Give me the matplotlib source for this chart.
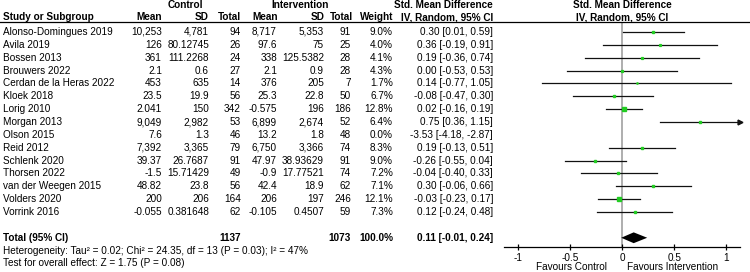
import matplotlib
matplotlib.use('Agg')
import matplotlib.pyplot as plt
import matplotlib.transforms as mtransforms

plt.rcParams['font.family'] = ['Liberation Sans', 'DejaVu Sans']
FS = 7.2

studies = ['Alonso-Domingues 2019', 'Avila 2019', 'Bossen 2013', 'Brouwers 2022',
           'Cerdan de la Heras 2022', 'Kloek 2018', 'Lorig 2010', 'Morgan 2013',
           'Olson 2015', 'Reid 2012', 'Schlenk 2020', 'Thorsen 2022',
           'van der Weegen 2015', 'Volders 2020', 'Vorrink 2016']
ctrl_mean = ['10,253', '126', '361', '2.1', '453', '23.5', '2.041', '9,049',
             '7.6', '7,392', '39.37', '-1.5', '48.82', '200', '-0.055']
ctrl_sd = ['4,781', '80.12745', '111.2268', '0.6', '635', '19.9', '150', '2,982',
           '1.3', '3,365', '26.7687', '15.71429', '23.8', '206', '0.381648']
ctrl_n = [94, 26, 24, 27, 14, 56, 342, 53, 46, 79, 91, 49, 56, 164, 62]
int_mean = ['8,717', '97.6', '338', '2.1', '376', '25.3', '-0.575', '6,899',
            '13.2', '6,750', '47.97', '-0.9', '42.4', '206', '-0.105']
int_sd = ['5,353', '75', '125.5382', '0.9', '205', '22.8', '196', '2,674',
          '1.8', '3,366', '38.93629', '17.77521', '18.9', '197', '0.4507']
int_n = [91, 25, 28, 28, 7, 50, 186, 52, 48, 74, 91, 74, 62, 246, 59]
weight = [9.0, 4.0, 4.1, 4.3, 1.7, 6.7, 12.8, 6.4, 0.0, 8.3, 9.0, 7.2, 7.1, 12.1, 7.3]
smd = [0.30, 0.36, 0.19, 0.00, 0.14, -0.08, 0.02, 0.75, -3.53, 0.19, -0.26, -0.04, 0.30, -0.03, 0.12]
ci_lo = [0.01, -0.19, -0.36, -0.53, -0.77, -0.47, -0.16, 0.36, -4.18, -0.13, -0.55, -0.40, -0.06, -0.23, -0.24]
ci_hi = [0.59, 0.91, 0.74, 0.53, 1.05, 0.30, 0.19, 1.15, -2.87, 0.51, 0.04, 0.33, 0.66, 0.17, 0.48]

total_ctrl = 1137
total_int = 1073
total_smd, total_lo, total_hi = 0.11, -0.01, 0.24
heterogeneity = 'Heterogeneity: Tau² = 0.02; Chi² = 24.35, df = 13 (P = 0.03); I² = 47%'
overall = 'Test for overall effect: Z = 1.75 (P = 0.08)'
xticks = [-1, -0.5, 0, 0.5, 1]
xticklabels = ['-1', '-0.5', '0', '0.5', '1']

W, H = 750, 272
fig = plt.figure(figsize=(W / 100, H / 100), dpi=100)

# forest axes, rows map to pixel y = 32 + 12.86 * row
row_px0, row_step = 32, 12.86
top_px, bot_px = 22, 247
ax = fig.add_axes([504 / W, 1 - bot_px / H, (740 - 504) / W, (bot_px - top_px) / H])
ax.set_xlim(-1.138, 1.133)
ax.set_ylim((bot_px - row_px0) / row_step, (top_px - row_px0) / row_step)
for s in ['left', 'right', 'top']:
    ax.spines[s].set_visible(False)
ax.spines['bottom'].set_linewidth(0.9)
ax.set_yticks([])
ax.set_xticks(xticks)
ax.set_xticklabels(xticklabels, fontsize=FS)
ax.tick_params(axis='x', direction='inout', length=5, width=0.9, pad=1.5)
ax.axvline(0, color='#999999', lw=1.1, zorder=1)

xmin, xmax = ax.get_xlim()
for i in range(len(studies)):
    lo, hi, m = ci_lo[i], ci_hi[i], smd[i]
    if hi < xmin or lo > xmax:
        continue
    ax.plot([max(lo, xmin), min(hi, xmax)], [i, i], color='#111111', lw=0.9, zorder=2)
    if hi > xmax:
        ax.plot([xmax], [i], marker='>', color='#111111', ms=3.5, clip_on=False, zorder=3)
    ax.plot([m], [i], marker='s', color='#22cc22', mec='#22cc22',
            ms=0.65 * weight[i] ** 0.5, lw=0, zorder=3)

trow = 16
ax.fill([total_lo, total_smd, total_hi, total_smd],
        [trow, trow - 0.42, trow, trow + 0.42], color='black', lw=0, zorder=3)

# text columns: x in pixels, y in row units
tr = mtransforms.blended_transform_factory(fig.transFigure, ax.transData)


def put(xpx, row, s, ha='right', weight='normal'):
    fig.text(xpx / W, row, s, transform=tr, ha=ha, va='center', fontsize=FS,
             fontweight=weight, clip_on=False)


hdr1 = (5 - row_px0) / row_step
hdr2 = (17 - row_px0) / row_step
put(185, hdr1, 'Control', ha='center', weight='bold')
put(300, hdr1, 'Intervention', ha='center', weight='bold')
put(493, hdr1, 'Std. Mean Difference', weight='bold')
put(622, hdr1, 'Std. Mean Difference', ha='center', weight='bold')
put(3, hdr2, 'Study or Subgroup', ha='left', weight='bold')
put(162, hdr2, 'Mean', weight='bold')
put(209, hdr2, 'SD', weight='bold')
put(241, hdr2, 'Total', weight='bold')
put(278, hdr2, 'Mean', weight='bold')
put(325, hdr2, 'SD', weight='bold')
put(353, hdr2, 'Total', weight='bold')
put(393, hdr2, 'Weight', weight='bold')
put(493, hdr2, 'IV, Random, 95% CI', weight='bold')
put(622, hdr2, 'IV, Random, 95% CI', ha='center', weight='bold')

fig.add_artist(plt.Line2D([0, 1], [1 - top_px / H] * 2, transform=fig.transFigure,
                          color='black', lw=0.9))

for i, name in enumerate(studies):
    put(3, i, name, ha='left')
    put(162, i, ctrl_mean[i])
    put(209, i, ctrl_sd[i])
    put(241, i, str(ctrl_n[i]))
    put(277, i, int_mean[i])
    put(324, i, int_sd[i])
    put(351, i, str(int_n[i]))
    put(393, i, f'{weight[i]:.1f}%')
    put(493, i, f'{smd[i]:.2f} [{ci_lo[i]:.2f}, {ci_hi[i]:.2f}]')

put(3, trow, 'Total (95% CI)', ha='left', weight='bold')
put(241, trow, str(total_ctrl), weight='bold')
put(351, trow, str(total_int), weight='bold')
put(393, trow, f'{sum(weight):.1f}%', weight='bold')
put(493, trow, f'{total_smd:.2f} [{total_lo:.2f}, {total_hi:.2f}]', weight='bold')
put(3, (251 - row_px0) / row_step, heterogeneity, ha='left')
put(3, (263 - row_px0) / row_step, overall, ha='left')

fav_row = (267 - row_px0) / row_step
put(607, fav_row, 'Favours Control')
put(627, fav_row, 'Favours Intervention', ha='left')

fig.savefig('out.png', dpi=100)
